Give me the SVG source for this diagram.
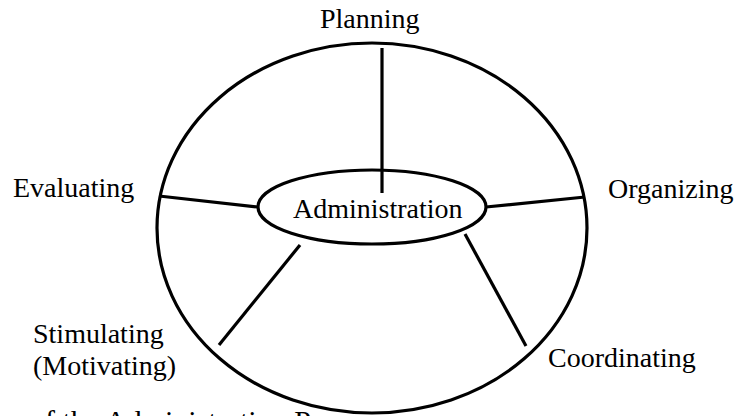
<svg xmlns="http://www.w3.org/2000/svg" width="738" height="416" viewBox="0 0 738 416">
  <style>
    .lbl { font-family: "Liberation Serif", "Times New Roman", serif; font-size: 28px; fill: #000; }
    .cap { font-family: "Liberation Serif", "Times New Roman", serif; font-size: 30px; fill: #000; }
    .shape { fill: #fff; stroke: #000; stroke-width: 3.2; }
    .conn { stroke: #000; stroke-width: 3.2; fill: none; stroke-linecap: butt; }
  </style>
  <rect x="0" y="0" width="738" height="416" fill="#fff"/>
  <g id="caption">
    <text class="cap" x="30" y="431">of the Administration Process</text>
  </g>
  <g id="outer-cycle">
    <ellipse class="shape" cx="372" cy="228" rx="215" ry="185"/>
  </g>
  <g id="connectors">
    <line class="conn" x1="382" y1="48" x2="382" y2="193"/>
    <line class="conn" x1="159" y1="196" x2="258" y2="207"/>
    <line class="conn" x1="486" y1="207" x2="585" y2="197"/>
    <line class="conn" x1="300" y1="245" x2="219" y2="345"/>
    <line class="conn" x1="465" y1="234" x2="526" y2="346"/>
  </g>
  <g id="administration">
    <ellipse cx="372" cy="207" rx="114" ry="37" fill="none" stroke="#000" stroke-width="3.2"/>
    <text class="lbl" x="293" y="218">Administration</text>
  </g>
  <g id="planning">
    <text class="lbl" x="320" y="28">Planning</text>
  </g>
  <g id="organizing">
    <text class="lbl" x="608" y="198">Organizing</text>
  </g>
  <g id="coordinating">
    <text class="lbl" x="548" y="367">Coordinating</text>
  </g>
  <g id="stimulating">
    <text class="lbl" x="33" y="343">Stimulating</text>
    <text class="lbl" x="33" y="375">(Motivating)</text>
  </g>
  <g id="evaluating">
    <text class="lbl" x="13" y="197">Evaluating</text>
  </g>
</svg>
